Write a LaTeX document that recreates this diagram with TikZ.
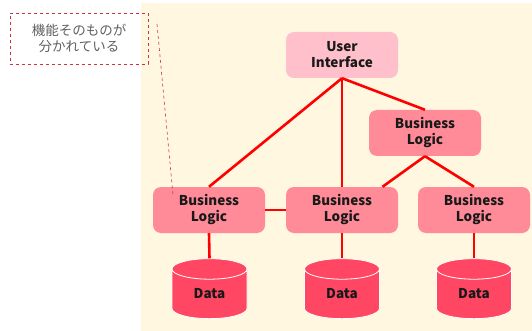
\documentclass[tikz,border=0pt]{standalone}
\usepackage{fontspec}
\setmainfont{Noto Sans CJK JP}
\usetikzlibrary{shapes.geometric}
\usetikzlibrary{calc}

\definecolor{bgcream}{HTML}{FFF7E0}
\definecolor{uipink}{HTML}{FFC0CB}
\definecolor{logicpink}{HTML}{FF8A98}
\definecolor{datared}{HTML}{FF4763}
\definecolor{linkred}{HTML}{FF0000}
\definecolor{notered}{HTML}{D03040}
\definecolor{notegray}{HTML}{606060}

\tikzset{
  uibox/.style={rounded corners=8pt,fill=uipink,minimum width=112pt,minimum height=46pt,
    inner sep=0pt,align=center,text=black!90,font=\bfseries\fontsize{13.5}{16}\selectfont},
  logicbox/.style={uibox,fill=logicpink},
  datadisk/.style={cylinder,shape border rotate=90,aspect=0.65,draw=white,line width=0.8pt,
    fill=datared,minimum width=75pt,minimum height=60pt,inner sep=0pt,text=black!90,
    font=\bfseries\fontsize{13.5}{16}\selectfont},
  link/.style={draw=linkred,line width=2.6pt},
  notebox/.style={draw=notered,dashed,line width=0.6pt,minimum width=138pt,minimum height=51pt,
    inner sep=0pt,align=center,text=notegray,font=\fontsize{13.5}{16}\selectfont}
}

\begin{document}
\begin{tikzpicture}[x=1pt,y=-1pt]
\useasboundingbox (0,0) rectangle (532,331);
\fill[bgcream] (141,3) rectangle (532,331);
% boxes
\node[uibox] (ui) at (342,55) {User\\Interface};
\node[logicbox] (logictop) at (425,133) {Business\\Logic};
\node[logicbox] (logicA) at (209,210) {Business\\Logic};
\node[logicbox] (logicB) at (342,210) {Business\\Logic};
\node[logicbox] (logicC) at (474,210) {Business\\Logic};
\node[datadisk] (dataA) at (209.5,294) {Data};
\node[datadisk] (dataB) at (342,294) {Data};
\node[datadisk] (dataC) at (474,294) {Data};
% connectors
\draw[link] (ui.south) -- (logicA.north);
\draw[link] (ui.south) -- (logicB.north);
\draw[link] (ui.south) -- (logictop.north);
\draw[link] (logictop.south) -- ($(logicB.north)!0.72!(logicB.north east)$);
\draw[link] (logictop.south) -- (logicC.north);
\draw[link] (logicA.east) -- (logicB.west);
\draw[link] (logicA.south) -- (dataA.top);
\draw[link] (logicB.south) -- (dataB.top);
\draw[link] (logicC.south) -- (dataC.top);
% note
\node[notebox] (note) at (79,38.5) {機能そのものが\\分かれている};
\coordinate (notestart) at (157,24);
\coordinate (noteend) at (173,195);
\draw[notered,dashed,line width=0.6pt] (notestart) -- (noteend);
\end{tikzpicture}
\end{document}
